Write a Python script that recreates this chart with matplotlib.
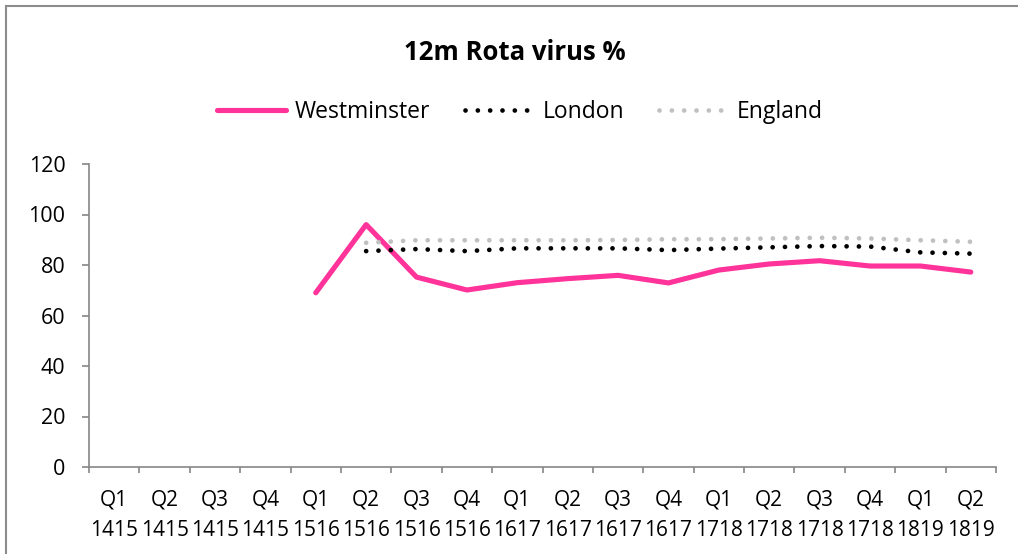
import numpy as np
import matplotlib
matplotlib.use('Agg')
import matplotlib.pyplot as plt
from matplotlib.patches import Rectangle

# quarterly 12-month rotavirus coverage (%)
quarters = ['Q1', 'Q2', 'Q3', 'Q4'] * 4 + ['Q1', 'Q2']
years = ['1415'] * 4 + ['1516'] * 4 + ['1617'] * 4 + ['1718'] * 4 + ['1819'] * 2
westminster = [None, None, None, None, 69.0, 96.0, 75.2, 70.1, 73.0, 74.6, 75.9, 72.9,
               78.0, 80.4, 81.7, 79.6, 79.6, 77.2]
london = [None, None, None, None, None, 85.5, 86.3, 85.5, 86.6, 86.6, 86.6, 85.9,
          86.5, 87.0, 87.5, 87.3, 85.0, 84.5]
england = [None, None, None, None, None, 88.8, 89.8, 89.8, 89.8, 89.8, 89.9, 90.2,
           90.2, 90.5, 90.8, 90.5, 89.8, 89.2]

plt.rcParams['font.family'] = ['Open Sans', 'DejaVu Sans']

labels = [q + '\n' + y for q, y in zip(quarters, years)]
x = np.arange(len(labels))

def as_arr(vals):
    return np.array([np.nan if v is None else v for v in vals], dtype=float)

fig = plt.figure(figsize=(10.18, 5.54), dpi=100)
ax = fig.add_axes([89/1018, 1 - 467/554, (996 - 89)/1018, (467 - 164)/554])

ax.plot(x, as_arr(westminster), color='#ff3399', lw=3.7, solid_capstyle='round',
        solid_joinstyle='round', label='Westminster')
ax.plot(x, as_arr(london), color='black', lw=3.4, linestyle=(0, (0.01, 2.6)),
        dash_capstyle='round', label='London')
ax.plot(x, as_arr(england), color='#c0c0c0', lw=3.4, linestyle=(0, (0.01, 2.6)),
        dash_capstyle='round', label='England')

ax.set_xlim(-0.5, len(labels) - 0.5)
ax.set_ylim(0, 120)
ax.set_yticks(np.arange(0, 121, 20))
ax.set_xticks(x)
ax.set_xticklabels(labels, linespacing=1.6)
ax.set_xticks(np.arange(-0.5, len(labels), 1), minor=True)

for s in ['top', 'right']:
    ax.spines[s].set_visible(False)
for s in ['left', 'bottom']:
    ax.spines[s].set_color('#868686')
    ax.spines[s].set_linewidth(1.2)

ax.tick_params(axis='y', length=5, width=1.2, color='#868686', pad=12, labelsize=15.5)
ax.tick_params(axis='x', which='major', length=0, pad=16, labelsize=15)
ax.tick_params(axis='x', which='minor', length=4, width=1.2, color='#868686')

fig.text(515/1018, 1 - 52/554, '12m Rota virus %', ha='center', va='center',
         fontsize=18.5, fontweight='bold')

ax.legend(loc='center', bbox_to_anchor=(520/1018, 1 - 112/554),
          bbox_transform=fig.transFigure, ncol=3, frameon=False, fontsize=16.5,
          handlelength=3.0, handletextpad=0.4, columnspacing=1.5)

fig.patches.append(Rectangle((6/1018, -0.05), 1.1, 1 - 6/554 + 0.05,
                             transform=fig.transFigure, fill=False,
                             edgecolor='#8c8c8c', lw=1.5))

fig.savefig('out.png', dpi=100)
